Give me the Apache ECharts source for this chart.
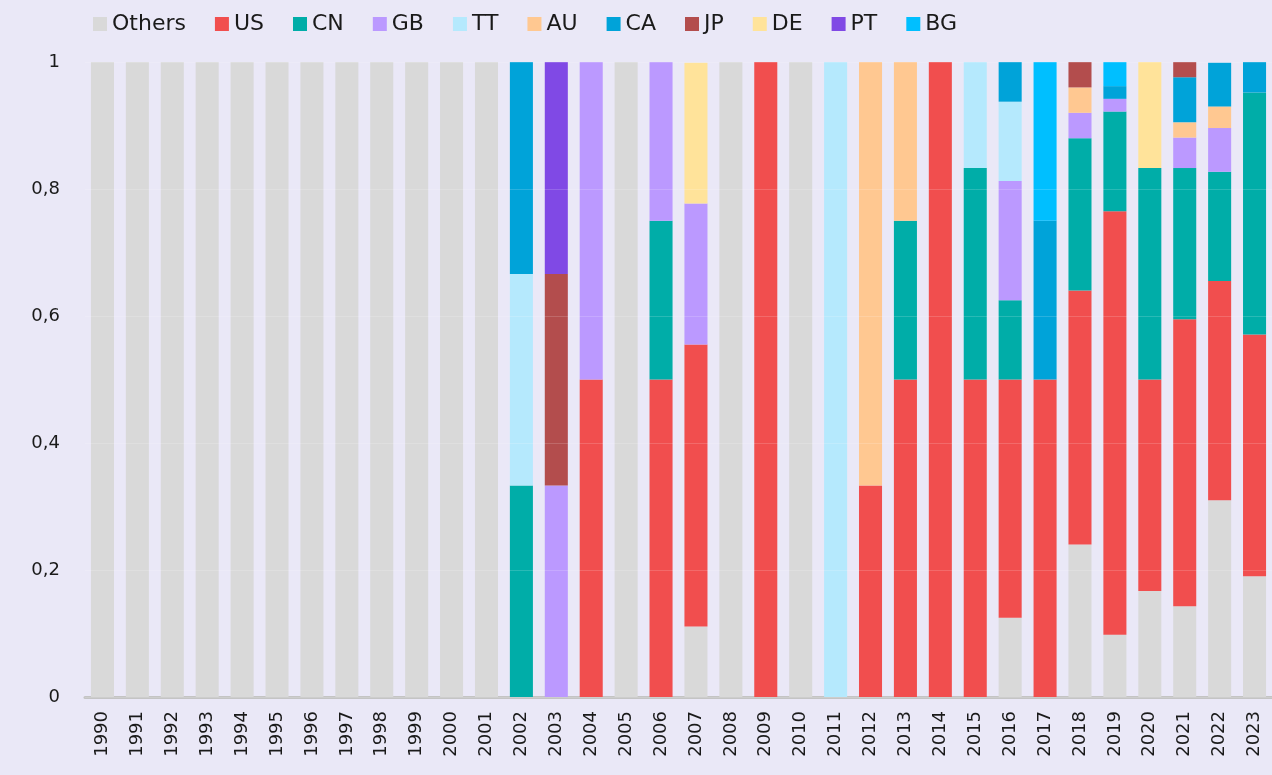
<!DOCTYPE html>
<html>
<head>
<meta charset="utf-8">
<script src="https://cdn.jsdelivr.net/npm/echarts@6/dist/echarts.min.js"></script>
<style>
html,body{margin:0;padding:0;background:#eae8f7;}
#c{width:1272px;height:775px;}
</style>
</head>
<body>
<div id="c"></div>
<script>
const years = ['1990','1991','1992','1993','1994','1995','1996','1997','1998','1999','2000','2001','2002','2003','2004','2005','2006','2007','2008','2009','2010','2011','2012','2013','2014','2015','2016','2017','2018','2019','2020','2021','2022','2023'];
const yTicks = [0, 0.2, 0.4, 0.6, 0.8, 1];
//                1990 ...                                   2001  2002   2003   2004 2005 2006  2007   2008 2009 2010 2011 2012   2013 2014 2015   2016    2017 2018 2019   2020   2021   2022   2023
const others = [1,1,1,1,1,1,1,1,1,1,1,1,                      0,     0,     0,   1,   0,    0.111, 1,   0,   1,   0,   0,     0,   0,   0,     0.125,  0,   0.24, 0.098, 0.167, 0.143, 0.31,  0.19];
const us     = [0,0,0,0,0,0,0,0,0,0,0,0,                      0,     0,     0.5, 0,   0.5,  0.444, 0,   1,   0,   0,   0.333, 0.5, 1,   0.5,   0.375,  0.5, 0.4,  0.667, 0.333, 0.452, 0.345, 0.381];
const cn     = [0,0,0,0,0,0,0,0,0,0,0,0,                      0.333, 0,     0,   0,   0.25, 0,     0,   0,   0,   0,   0,     0.25,0,   0.333, 0.125,  0,   0.24, 0.157, 0.333, 0.238, 0.172, 0.381];
const gb     = [0,0,0,0,0,0,0,0,0,0,0,0,                      0,     0.333, 0.5, 0,   0.25, 0.222, 0,   0,   0,   0,   0,     0,   0,   0,     0.1875, 0,   0.04, 0.02,  0,     0.048, 0.069, 0];
const tt     = [0,0,0,0,0,0,0,0,0,0,0,0,                      0.333, 0,     0,   0,   0,    0,     0,   0,   0,   1,   0,     0,   0,   0.167, 0.125,  0,   0,    0,     0,     0,     0,     0];
const au     = [0,0,0,0,0,0,0,0,0,0,0,0,                      0,     0,     0,   0,   0,    0,     0,   0,   0,   0,   0.667, 0.25,0,   0,     0,      0,   0.04, 0,     0,     0.024, 0.034, 0];
const ca     = [0,0,0,0,0,0,0,0,0,0,0,0,                      0.334, 0,     0,   0,   0,    0,     0,   0,   0,   0,   0,     0,   0,   0,     0.0625, 0.25,0,    0.02,  0,     0.071, 0.069, 0.048];
const jp     = [0,0,0,0,0,0,0,0,0,0,0,0,                      0,     0.333, 0,   0,   0,    0,     0,   0,   0,   0,   0,     0,   0,   0,     0,      0,   0.04, 0,     0,     0.024, 0,     0];
const de     = [0,0,0,0,0,0,0,0,0,0,0,0,                      0,     0,     0,   0,   0,    0.222, 0,   0,   0,   0,   0,     0,   0,   0,     0,      0,   0,    0,     0.167, 0,     0,     0];
const pt     = [0,0,0,0,0,0,0,0,0,0,0,0,                      0,     0.334, 0,   0,   0,    0,     0,   0,   0,   0,   0,     0,   0,   0,     0,      0,   0,    0,     0,     0,     0,     0];
const bg     = [0,0,0,0,0,0,0,0,0,0,0,0,                      0,     0,     0,   0,   0,    0,     0,   0,   0,   0,   0,     0,   0,   0,     0,      0.25,0,    0.039, 0,     0,     0,     0];

const seriesNames = ['Others','US','CN','GB','TT','AU','CA','JP','DE','PT','BG'];
const seriesData = [others, us, cn, gb, tt, au, ca, jp, de, pt, bg];
const colors = ['#d9d9d9','#f14e4e','#00ada8','#bb99ff','#b5e9fd','#ffc891','#00a3d9','#b34d4d','#ffe39a','#8049e5','#00bfff'];

const FONT = 'DejaVu Sans';
const chart = echarts.init(document.getElementById('c'));
chart.setOption({
  backgroundColor: '#eae8f7',
  animation: false,
  color: colors,
  legend: {
    top: 8, left: 88,
    itemWidth: 14, itemHeight: 14, itemGap: 29,
    icon: 'rect',
    textStyle: {fontFamily: FONT, fontSize: 22, color: '#1a1a1a'}
  },
  grid: {left: 85, right: 0, top: 62, bottom: 78},
  xAxis: {
    type: 'category', data: years,
    axisLine: {lineStyle: {color: '#c4c4c4', width: 3}},
    axisTick: {show: false},
    axisLabel: {rotate: 90, interval: 0, margin: 14, fontFamily: FONT, fontSize: 18, color: '#1a1a1a'}
  },
  yAxis: {
    type: 'value', min: 0, max: 1, interval: 0.2, z: 5,
    axisLine: {show: false}, axisTick: {show: false},
    splitLine: {lineStyle: {color: 'rgba(255,255,255,0.16)', width: 1}},
    axisLabel: {margin: 25, fontFamily: FONT, fontSize: 18, color: '#1a1a1a',
      formatter: v => String(Math.round(v * 10) / 10).replace('.', ',')}
  },
  series: seriesNames.map((n, i) => ({
    name: n, type: 'bar', stack: 'total', barCategoryGap: '34%',
    data: seriesData[i]
  }))
});
</script>
</body>
</html>
